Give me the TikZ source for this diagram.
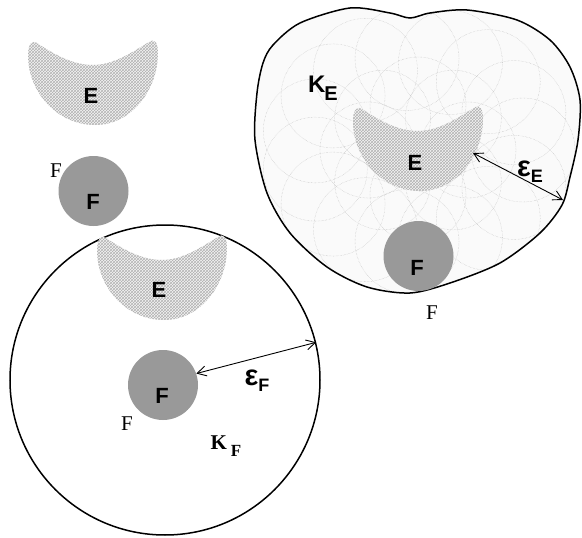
\documentclass[tikz,border=0pt]{standalone}
\usepackage{fontspec}
\setmainfont{Liberation Serif}
\setsansfont{Liberation Sans}
\usetikzlibrary{arrows.meta,patterns}

\begin{document}
\begin{tikzpicture}[
  x=1pt, y=-1pt,
  blob/.style={fill=gray!8, postaction={pattern=crosshatch, pattern color=gray!60}},
  disk/.style={circle, minimum size=70pt, inner sep=0pt, fill=black!40},
  hull/.style={draw, line width=1.5pt},
  sanslbl/.style={font=\fontsize{22}{24}\selectfont\sffamily\bfseries, inner sep=0pt},
  seriflbl/.style={font=\fontsize{21}{24}\selectfont, inner sep=0pt},
  epslbl/.style={font=\fontsize{29}{30}\selectfont\sffamily\bfseries, inner sep=0pt},
  ballring/.style={draw=gray!55, densely dotted, line width=0.4pt},
  arrow/.style={{Straight Barb[length=9pt,width=10pt]}-{Straight Barb[length=9pt,width=10pt]}, line width=0.9pt},
  crescent/.pic={
    \path[blob] (-56,-50) .. controls (-35,-36) and (-18,-28) .. (0,-28)
      .. controls (20,-28) and (38,-40) .. (56,-51)
      .. controls (62,-55) and (65,-50) .. (65,-40)
      .. controls (65,-5) and (40,32) .. (2,32)
      .. controls (-35,32) and (-65,0) .. (-65,-38)
      .. controls (-65,-50) and (-60,-53) .. (-56,-50) -- cycle;
  }
]
\useasboundingbox (0,0) rectangle (582,538);

% the two sets on their own
\pic at (93,93) {crescent};
\node[sanslbl] (eTop) at (91,96) {E};
\node[disk] (fTop) at (93.5,191) {};
\node[sanslbl] at (93,202) {F};
\node[seriflbl] at (56,171) {F};

% neighbourhood K_F
\node[circle, hull, minimum size=310pt, inner sep=0pt] (kF) at (165,380) {};
\pic at (162,288) {crescent};
\node[sanslbl] (eMid) at (159,290) {E};
\node[disk] (fMid) at (163,385) {};
\node[sanslbl] at (162,396) {F};
\node[seriflbl] at (127,424) {F};
\node[font=\fontsize{21}{24}\selectfont\bfseries, inner sep=0pt] (kFlbl) at (226,446)
  {K\hspace{4pt}\raisebox{-7pt}{\fontsize{17}{18}\selectfont F}};
\draw[arrow] (fMid.19) -- (kF.14);
\node[epslbl] (epsF) at (257,381) {ε\raisebox{-6pt}{\fontsize{18}{18}\selectfont F}};

% neighbourhood K_E
\draw[hull, fill=gray!4, path picture={
    \foreach \a in {0,24,...,336}
      \draw[ballring] ({418+105*cos(\a)},{150+92*sin(\a)}) circle[radius=52];
    \foreach \a in {0,45,...,315}
      \draw[ballring] ({418+50*cos(\a)},{150+45*sin(\a)}) circle[radius=48];
  }] plot[smooth cycle] coordinates {
  (257,93) (263,63) (273,45) (300,23) (350,8) (390,13) (410,18) (430,13)
  (467,10) (517,20) (550,40) (570,67) (580,100) (578,140) (570,177) (562,205)
  (540,233) (500,263) (450,283) (410,293) (367,287) (327,267) (290,233)
  (267,193) (255,140)};
\pic at (418,159) {crescent};
\node[sanslbl] (eRight) at (415,163) {E};
\node[disk] (fRight) at (418.5,256) {};
\node[sanslbl] at (417,268) {F};
\node[seriflbl] at (432,313) {F};
\node[font=\fontsize{24}{26}\selectfont\sffamily\bfseries, inner sep=0pt] (kElbl) at (323,88)
  {K\kern-1pt\raisebox{-8pt}{\fontsize{20}{22}\selectfont E}};
\coordinate (epsEin) at (473,153);
\coordinate (epsEout) at (563,200);
\draw[arrow] (epsEin) -- (epsEout);
\node[epslbl] (epsE) at (530,172) {ε\raisebox{-6pt}{\fontsize{18}{18}\selectfont E}};
\end{tikzpicture}
\end{document}
